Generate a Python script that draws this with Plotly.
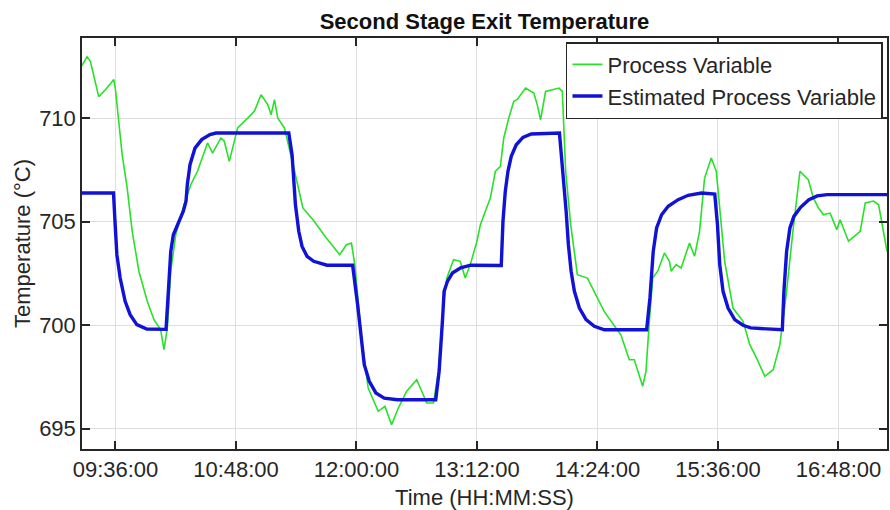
import plotly.graph_objects as go

DAY = "2020-01-01 "

# Process variable (measured), sampled along the run
pv_time = ["09:16", "09:19", "09:21", "09:26", "09:30", "09:35", "09:36", "09:38", "09:40", "09:43",
           "09:46", "09:50", "09:55", "09:59", "10:03", "10:05", "10:07", "10:09", "10:12", "10:17",
           "10:21", "10:25", "10:29", "10:31", "10:34", "10:39", "10:41", "10:44", "10:46", "10:49",
           "10:55", "10:59", "11:03", "11:07", "11:09", "11:11", "11:13", "11:17", "11:23", "11:28",
           "11:34", "11:42", "11:50", "11:54", "11:57", "11:59", "12:03", "12:07", "12:13", "12:17",
           "12:21", "12:25", "12:30", "12:36", "12:39", "12:42", "12:46", "12:49", "12:52", "12:54",
           "12:58", "13:02", "13:05", "13:08", "13:12", "13:14", "13:17", "13:20", "13:23", "13:26",
           "13:28", "13:31", "13:34", "13:36", "13:41", "13:46", "13:48", "13:50", "13:53", "13:57",
           "14:01", "14:03", "14:05", "14:08", "14:12", "14:18", "14:23", "14:28", "14:35", "14:38",
           "14:43", "14:46", "14:51", "14:53", "14:55", "14:57", "15:00", "15:04", "15:07", "15:08",
           "15:11", "15:14", "15:16", "15:19", "15:22", "15:25", "15:28", "15:32", "15:35", "15:40",
           "15:45", "15:51", "15:55", "15:59", "16:04", "16:09", "16:13", "16:17", "16:21", "16:25",
           "16:30", "16:33", "16:36", "16:39", "16:43", "16:47", "16:49", "16:54", "17:01", "17:04",
           "17:09", "17:12", "17:17"]
pv_value = [712.55, 712.98, 712.75, 711.05, 711.38, 711.87, 711.38, 709.86, 708.24, 706.63,
            704.54, 702.61, 701.16, 700.27, 699.78, 698.82, 699.87, 702.61, 704.37, 705.82,
            706.79, 707.44, 708.32, 708.81, 708.32, 709.05, 708.89, 707.92, 708.56, 709.53,
            710.01, 710.34, 711.14, 710.66, 710.17, 710.90, 710.01, 709.53, 707.44, 705.67,
            705.10, 704.22, 703.41, 703.89, 703.97, 702.93, 699.38, 696.97, 695.84, 696.08,
            695.19, 696.00, 696.81, 697.37, 696.81, 696.24, 696.24, 697.77, 700.99, 702.28,
            703.17, 703.09, 702.28, 702.93, 704.06, 704.84, 705.51, 706.15, 707.44, 707.68,
            709.05, 710.01, 710.82, 710.90, 711.46, 711.22, 710.66, 709.93, 711.30, 711.38,
            711.46, 711.30, 707.44, 704.86, 702.44, 702.28, 701.48, 700.67, 699.87, 699.54,
            698.33, 698.33, 697.05, 697.77, 700.19, 702.28, 702.61, 703.49, 703.09, 702.61,
            702.93, 702.77, 703.25, 703.97, 703.33, 704.54, 707.11, 708.08, 707.44, 703.09,
            700.83, 700.19, 699.06, 698.42, 697.53, 697.85, 699.06, 701.64, 704.70, 707.44,
            707.03, 706.15, 705.67, 705.34, 705.42, 704.62, 705.10, 704.06, 704.54, 705.91,
            706.00, 705.82, 703.57]

# Estimated process variable (model output)
est_time = ["09:16:00", "09:34:49", "09:35:49", "09:36:50", "09:38:48", "09:41:47", "09:44:46",
            "09:48:45", "09:54:43", "10:02:39", "10:06:13",
            "10:07:36", "10:09:02", "10:10:35", "10:13:34", "10:16:32", "10:18:09", "10:18:55",
            "10:20:32", "10:23:31", "10:27:31", "10:32:27", "10:36:02",
            "11:19:33", "11:21:31", "11:23:32", "11:25:31", "11:27:29", "11:30:28", "11:34:27",
            "11:42:23", "11:57:42",
            "12:00:41", "12:02:39", "12:04:40", "12:07:39", "12:11:35", "12:16:36", "12:24:31",
            "12:47:22",
            "12:49:23", "12:51:21", "12:52:22", "12:54:20", "12:57:19", "13:02:16", "13:08:13",
            "13:26:31",
            "13:27:32", "13:28:55", "13:30:31", "13:32:29", "13:35:28", "13:39:28", "13:44:25",
            "14:01:17",
            "14:03:18", "14:05:16", "14:06:38", "14:08:15", "14:10:13", "14:13:12", "14:17:11",
            "14:22:08", "14:28:06", "14:53:23",
            "14:55:21", "14:57:19", "14:59:20", "15:02:19", "15:06:15", "15:12:13", "15:18:11",
            "15:26:10", "15:34:05",
            "15:35:42", "15:37:04", "15:39:02", "15:42:01", "15:46:01", "15:50:58", "15:55:33",
            "16:14:27",
            "16:15:24", "16:17:01", "16:18:59", "16:21:22", "16:25:22", "16:30:19", "16:35:19",
            "16:41:17", "17:17:00"]
est_value = [706.39, 706.39, 704.86, 703.41, 702.28, 701.16, 700.51,
             700.03, 699.82, 699.78, 699.80,
             701.64, 703.57, 704.37, 704.94, 705.51, 705.99, 706.79,
             707.76, 708.56, 708.97, 709.21, 709.29,
             709.29, 708.24, 705.82, 704.54, 703.81, 703.33, 703.09,
             702.90, 702.90,
             700.99, 699.38, 698.09, 697.29, 696.73, 696.48, 696.40,
             696.40,
             697.77, 700.19, 701.64, 702.12, 702.52, 702.77, 702.90,
             702.89,
             705.02, 706.47, 707.44, 708.16, 708.72, 709.08, 709.24,
             709.29,
             707.44, 705.51, 703.89, 702.61, 701.64, 700.83, 700.27,
             699.95, 699.78, 699.78,
             701.32, 703.57, 704.70, 705.34, 705.75, 706.07, 706.28,
             706.39, 706.34,
             704.86, 702.93, 701.64, 700.83, 700.27, 700.00, 699.87,
             699.78,
             701.64, 703.57, 704.70, 705.26, 705.70, 706.07, 706.25,
             706.31, 706.31]

x_ticks = ["09:36:00", "10:48:00", "12:00:00", "13:12:00", "14:24:00", "15:36:00", "16:48:00"]
y_ticks = [695, 700, 705, 710]
x_range = ["09:16:00", "17:17:00"]
y_range = [694.02, 713.88]

FONT = "Liberation Sans, Arial, sans-serif"
INK = "#262626"
FS = 22

fig = go.Figure()
fig.add_trace(go.Scatter(
    x=[DAY + t for t in pv_time], y=pv_value, mode="lines",
    name="Process Variable", line=dict(color="rgb(40,225,40)", width=1.6)))
fig.add_trace(go.Scatter(
    x=[DAY + t for t in est_time], y=est_value, mode="lines",
    name="Estimated Process Variable", line=dict(color="rgb(18,18,215)", width=3.4)))

fig.update_layout(
    width=890, height=510,
    margin=dict(l=82, r=1, t=38, b=61),
    paper_bgcolor="white", plot_bgcolor="white",
    font=dict(family=FONT, size=FS, color=INK),
    title=dict(text="<b>Second Stage Exit Temperature</b>", x=0.5, xref="paper",
               y=1 - 21.5 / 510, yref="container", yanchor="middle",
               font=dict(size=FS, color="#111111")),
    showlegend=True,
    legend=dict(x=0.995, y=0.99, xanchor="right", yanchor="top",
                bgcolor="white", bordercolor="#262626", borderwidth=1.5,
                font=dict(size=FS, color=INK), itemwidth=30,
                tracegroupgap=0),
)

fig.update_xaxes(
    type="date", range=[DAY + x_range[0], DAY + x_range[1]],
    tickvals=[DAY + t for t in x_ticks], ticktext=x_ticks,
    ticks="inside", ticklen=8, tickwidth=1.5, tickcolor=INK,
    showline=True, linecolor=INK, linewidth=1.5, mirror="ticks",
    showgrid=True, gridcolor="#dedede", gridwidth=1.2,
    zeroline=False, tickfont=dict(size=FS, color=INK),
    title=dict(text="Time (HH:MM:SS)", font=dict(size=FS, color=INK), standoff=8),
)
fig.update_yaxes(
    range=y_range, tickvals=y_ticks,
    ticks="inside", ticklen=8, tickwidth=1.5, tickcolor=INK,
    showline=True, linecolor=INK, linewidth=1.5, mirror="ticks",
    showgrid=True, gridcolor="#dedede", gridwidth=1.2,
    zeroline=False, tickfont=dict(size=FS, color=INK),
    title=dict(text="Temperature (°C)", font=dict(size=FS, color=INK), standoff=2),
)

fig.write_html("out.html")
